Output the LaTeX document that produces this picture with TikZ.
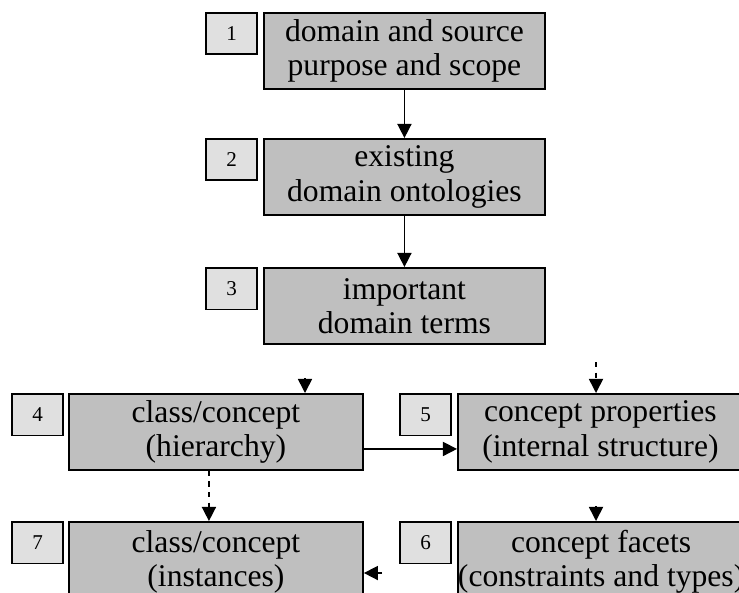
\documentclass[tikz,border=0pt]{standalone}
\usepackage{fontspec}
\setmainfont{Liberation Serif}
\usetikzlibrary{positioning,arrows.meta}

\begin{document}
\begin{tikzpicture} [
                x=0.02cm, y=-0.02cm,
                stepbox/.style={
                    rectangle,
                    draw=black,
                    line width=1.1pt,
                    fill=black!25,
                    anchor=north west,
                    align=center,
                    inner sep=0pt,
                    minimum width=5.62cm,
                    minimum height=1.52cm,
                    font=\fontsize{18}{19.5}\selectfont
                },
                numbox/.style={
                    rectangle,
                    draw=black,
                    line width=1pt,
                    fill=black!12,
                    inner sep=0pt,
                    minimum width=1.02cm,
                    minimum height=0.83cm,
                    font=\fontsize{12}{14}\selectfont
                },
                flow/.style={
                    line width=0.9pt,
                    -{Triangle[length=8pt,width=8pt]}
                }
            ]
                \useasboundingbox (0,0) rectangle (739,592);
                \clip (0,0) rectangle (739,592);
                \node[stepbox] (step1) at (263,12)  {domain and source\\purpose and scope};
                \node[stepbox] (step2) at (263,138) {existing\\domain ontologies};
                \node[stepbox] (step3) at (263,267) {important\\domain terms};
                \node[stepbox, minimum width=5.88cm] (step4) at (68,393)  {class/concept\\(hierarchy)};
                \node[stepbox, minimum width=5.7cm]  (step5) at (457,393) {concept properties\\(internal structure)};
                \node[stepbox, minimum width=5.7cm, minimum height=1.6cm]  (step6) at (457,521) {concept facets\\(constraints and types)};
                \node[stepbox, minimum width=5.88cm, minimum height=1.6cm] (step7) at (68,521)  {class/concept\\(instances)};
                \node[numbox] (num1) [below left=0cm and 0.1cm of step1.north west] {1};
                \node[numbox] (num2) [below left=0cm and 0.1cm of step2.north west] {2};
                \node[numbox] (num3) [below left=0cm and 0.1cm of step3.north west] {3};
                \node[numbox] (num4) [below left=0cm and 0.08cm of step4.north west] {4};
                \node[numbox] (num5) [below left=0cm and 0.1cm of step5.north west] {5};
                \node[numbox] (num6) [below left=0cm and 0.1cm of step6.north west] {6};
                \node[numbox] (num7) [below left=0cm and 0.08cm of step7.north west] {7};
                \coordinate (in4)  at (305,378);
                \coordinate (in5)  at (596,362);
                \coordinate (in6)  at (596,506);
                \coordinate (out7) at (382,573);
                \draw[flow] (step1) -- (step2);
                \draw[flow] (step2) -- (step3);
                \draw[flow] ([yshift=-0.34cm]step4.east) -- ([yshift=-0.34cm]step5.west);
                \draw[flow, dashed] ([xshift=-0.14cm]step4.south) -- ([xshift=-0.14cm]step7.north);
                \draw[flow] (in4) -- (in4 |- step4.north);
                \draw[flow, dashed] (in5) -- (in5 |- step5.north);
                \draw[flow] (in6) -- (in6 |- step6.north);
                \draw[flow] (out7) -- (out7 -| step7.east);
            \end{tikzpicture}
\end{document}
